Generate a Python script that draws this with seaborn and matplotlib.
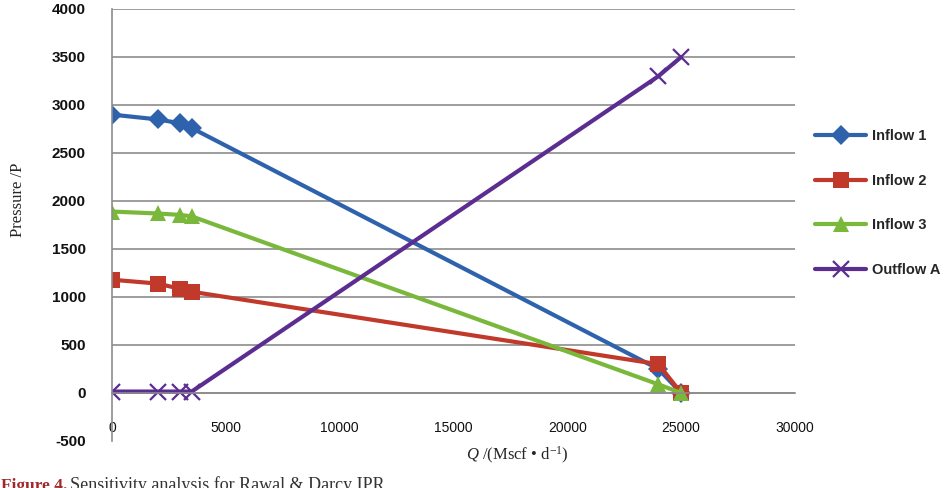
import numpy as np
import pandas as pd
import matplotlib
matplotlib.use("Agg")
import matplotlib.pyplot as plt
import seaborn as sns

# ==========================================================
# DATA
# ==========================================================

q_inflow = [0, 2000, 3000, 3500, 24000, 25000]
inflow_1 = [2900, 2850, 2810, 2760, 250, 0]
inflow_2 = [1180, 1140, 1085, 1055, 300, 0]
inflow_3 = [1890, 1870, 1855, 1840, 90, 0]

q_outflow = [0, 2000, 3000, 3500, 24000, 25000]
outflow_a = [15, 15, 15, 15, 3300, 3500]

x_ticks = [0, 5000, 10000, 15000, 20000, 25000, 30000]
y_ticks = [-500, 0, 500, 1000, 1500, 2000, 2500, 3000, 3500, 4000]

# ==========================================================
# STYLE
# ==========================================================

sns.set_style("white")
plt.rcParams["font.family"] = ["Liberation Sans", "DejaVu Sans"]
plt.rcParams["mathtext.fontset"] = "custom"
plt.rcParams["mathtext.rm"] = "Liberation Serif"
plt.rcParams["mathtext.it"] = "Liberation Serif:italic"

series = [
    ("Inflow 1", q_inflow, inflow_1, "#2E62AD", "D", 10, 0),
    ("Inflow 2", q_inflow, inflow_2, "#C0392B", "s", 12, 0),
    ("Inflow 3", q_inflow, inflow_3, "#7AB83C", "^", 12, 0),
    ("Outflow A", q_outflow, outflow_a, "#5C2D91", "x", 12, 1.6),
]

fig = plt.figure(figsize=(9.47, 4.88), dpi=100)
ax = fig.add_axes([112 / 947, 1 - 441 / 488, (795 - 112) / 947, (441 - 9) / 488])

for label, xs, ys, color, marker, ms, mew in series:
    df = pd.DataFrame({"Q": xs, "P": ys})
    sns.lineplot(
        data=df, x="Q", y="P", ax=ax, sort=False, color=color,
        linewidth=3, marker=marker, markersize=ms, label=label,
        markeredgecolor=color, markeredgewidth=mew
    )

# ==========================================================
# AXES
# ==========================================================

ax.set_xlim(0, 30000)
ax.set_ylim(-500, 4000)
ax.set_xticks(x_ticks)
ax.set_yticks(y_ticks)
ax.set_xticklabels([str(v) for v in x_ticks], fontsize=11, fontweight="bold")
ax.set_yticklabels([str(v) for v in y_ticks], fontsize=11, fontweight="bold")
ax.set_xlabel("")
ax.set_ylabel("")

grid_color = "#8C8C8C"
ax.yaxis.grid(True, color=grid_color, linewidth=1.2)
ax.get_ygridlines()[0].set_visible(False)
ax.set_axisbelow(True)

for side in ["top", "right"]:
    ax.spines[side].set_visible(False)
ax.spines["bottom"].set_position(("data", 0))
ax.spines["bottom"].set_color(grid_color)
ax.spines["bottom"].set_linewidth(1.2)
ax.spines["left"].set_color(grid_color)
ax.spines["left"].set_linewidth(1.2)

ax.tick_params(axis="x", direction="out", length=5, width=1.2,
               color=grid_color, pad=15, labelcolor="#111111")
ax.tick_params(axis="y", direction="out", length=6, width=1.2,
               color=grid_color, pad=13, labelcolor="#111111")

# ==========================================================
# LEGEND AND TEXT
# ==========================================================

ax.legend(
    loc="center left", bbox_to_anchor=(815 / 947, 1 - 203 / 488),
    bbox_transform=fig.transFigure, frameon=False, borderpad=0,
    borderaxespad=0, handlelength=3.5, handletextpad=0.4, labelspacing=2.1,
    prop={"size": 10.5, "weight": "bold"},
)

fig.text(18 / 947, 1 - 200 / 488, "Pressure /P", rotation=90,
         ha="center", va="center", fontsize=12, family="Liberation Serif")
fig.text(517 / 947, 1 - 455 / 488, r"$Q$ /(Mscf • d$^{-1}$)",
         ha="center", va="center", fontsize=12, family="Liberation Serif")

# caption sits on the lower edge, cut in half as in the source figure
fig.text(1 / 947, -2 / 488, "Figure 4.", color="#A0282D",
         ha="left", va="baseline", fontsize=12.5, fontweight="bold",
         family="Liberation Serif")
fig.text(70 / 947, -2 / 488, "Sensitivity analysis for Rawal & Darcy IPR",
         color="#333333", ha="left", va="baseline", fontsize=13,
         family="Liberation Serif")

fig.savefig("out.png", dpi=100)
